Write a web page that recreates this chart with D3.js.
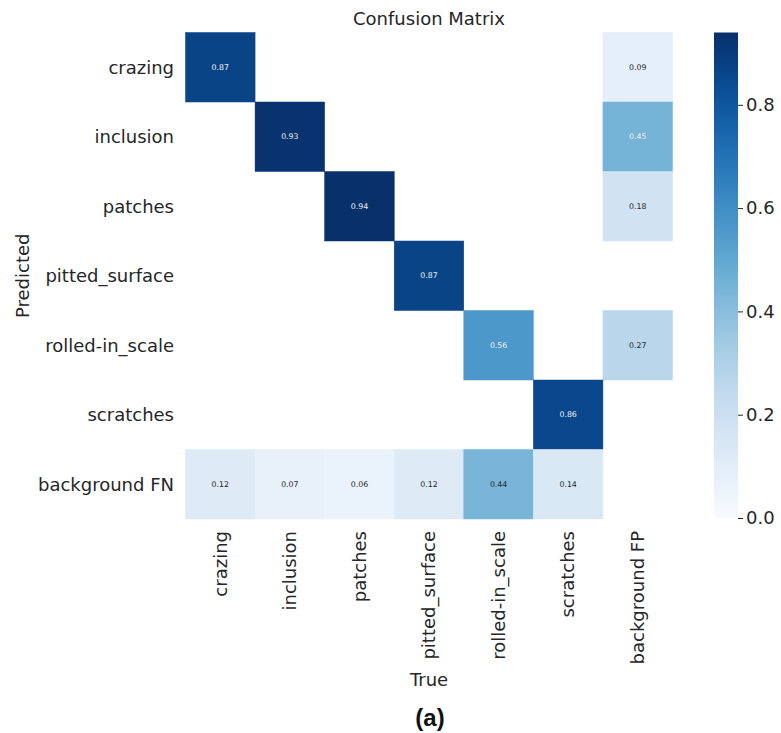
<!DOCTYPE html>
<html>
<head>
<meta charset="utf-8">
<script src="https://cdn.jsdelivr.net/npm/d3@7"></script>
<style>
  html, body { margin: 0; padding: 0; background: #fff; }
  svg { display: block; font-family: "DejaVu Sans", sans-serif; }
</style>
</head>
<body>
<svg id="chart" width="781" height="733"></svg>
<script>
// Classes along each axis
const predictedLabels = ["crazing", "inclusion", "patches", "pitted_surface", "rolled-in_scale", "scratches", "background FN"];
const trueLabels = ["crazing", "inclusion", "patches", "pitted_surface", "rolled-in_scale", "scratches", "background FP"];

// One row per predicted class, one value per true class (0 = empty cell)
const rowCrazing    = [0.87, 0, 0, 0, 0, 0, 0.09];
const rowInclusion  = [0, 0.93, 0, 0, 0, 0, 0.45];
const rowPatches    = [0, 0, 0.94, 0, 0, 0, 0.18];
const rowPitted     = [0, 0, 0, 0.87, 0, 0, 0];
const rowRolled     = [0, 0, 0, 0, 0.56, 0, 0.27];
const rowScratches  = [0, 0, 0, 0, 0, 0.86, 0];
const rowBackground = [0.12, 0.07, 0.06, 0.12, 0.44, 0.14, 0];

const colorbarTicks = [0.0, 0.2, 0.4, 0.6, 0.8];

const matrix = [rowCrazing, rowInclusion, rowPatches, rowPitted, rowRolled, rowScratches, rowBackground];

const svg = d3.select("#chart");
const textColor = "#262626";
const labelSize = 18;

// Heatmap frame
const hmLeft = 185.5, hmRight = 672.5, hmTop = 32.5, hmBottom = 519;

const x = d3.scaleBand().domain(trueLabels).range([hmLeft, hmRight]);
const y = d3.scaleBand().domain(predictedLabels).range([hmTop, hmBottom]);

const vmax = d3.max(matrix.flat());
const color = d3.scaleSequential(d3.interpolateBlues).domain([0, vmax]);

const cells = [];
matrix.forEach((row, i) => row.forEach((v, j) => {
  if (v > 0) cells.push({ r: predictedLabels[i], c: trueLabels[j], v });
}));

const g = svg.append("g");
g.selectAll("rect.cell").data(cells).enter().append("rect")
  .attr("class", "cell")
  .attr("x", d => x(d.c))
  .attr("y", d => y(d.r))
  .attr("width", x.bandwidth())
  .attr("height", y.bandwidth())
  .attr("fill", d => color(d.v))
  .attr("stroke", d => color(d.v))
  .attr("stroke-width", 0.5);

// Annotations: light text on the darker half of the scale
g.selectAll("text.val").data(cells).enter().append("text")
  .attr("class", "val")
  .attr("x", d => x(d.c) + x.bandwidth() / 2)
  .attr("y", d => y(d.r) + y.bandwidth() / 2)
  .attr("dy", "0.35em")
  .attr("text-anchor", "middle")
  .attr("font-size", 7.8)
  .attr("fill", d => d.v / vmax > 0.475 ? "#f2f2f2" : textColor)
  .text(d => d.v.toFixed(2));

// Row labels (predicted)
svg.append("g").selectAll("text").data(predictedLabels).enter().append("text")
  .attr("x", 174)
  .attr("y", d => y(d) + y.bandwidth() / 2)
  .attr("dy", "0.35em")
  .attr("text-anchor", "end")
  .attr("font-size", labelSize)
  .attr("fill", textColor)
  .text(d => d);

// Column labels (true), rotated
svg.append("g").selectAll("text").data(trueLabels).enter().append("text")
  .attr("transform", d => `translate(${x(d) + x.bandwidth() / 2},531) rotate(-90)`)
  .attr("dy", "0.35em")
  .attr("text-anchor", "end")
  .attr("font-size", labelSize)
  .attr("fill", textColor)
  .text(d => d);

// Axis titles
svg.append("text")
  .attr("x", (hmLeft + hmRight) / 2).attr("y", 686)
  .attr("text-anchor", "middle").attr("font-size", labelSize).attr("fill", textColor)
  .text("True");

svg.append("text")
  .attr("transform", `translate(29,${(hmTop + hmBottom) / 2}) rotate(-90)`)
  .attr("text-anchor", "middle").attr("font-size", labelSize).attr("fill", textColor)
  .text("Predicted");

svg.append("text")
  .attr("x", (hmLeft + hmRight) / 2).attr("y", 25)
  .attr("text-anchor", "middle").attr("font-size", labelSize).attr("fill", textColor)
  .text("Confusion Matrix");

// Colorbar
const cbX = 714, cbW = 24;
const cbScale = d3.scaleLinear().domain([0, vmax]).range([hmBottom - 1, hmTop]);
const defs = svg.append("defs");
const grad = defs.append("linearGradient").attr("id", "cbGrad")
  .attr("x1", 0).attr("y1", 1).attr("x2", 0).attr("y2", 0);
d3.range(0, 1.0001, 0.05).forEach(t => {
  grad.append("stop").attr("offset", t).attr("stop-color", color(t * vmax));
});
svg.append("rect")
  .attr("x", cbX).attr("y", hmTop).attr("width", cbW).attr("height", hmBottom - 1 - hmTop)
  .attr("fill", "url(#cbGrad)");

const cbAxis = d3.axisRight(cbScale).tickValues(colorbarTicks).tickFormat(d3.format(".1f")).tickSize(5).tickPadding(3);
const cbG = svg.append("g").attr("transform", `translate(${cbX + cbW},0)`).call(cbAxis);
cbG.select(".domain").remove();
cbG.selectAll("line").attr("stroke", textColor).attr("stroke-width", 1);
cbG.selectAll("text").attr("font-size", labelSize).attr("fill", textColor).attr("font-family", "DejaVu Sans, sans-serif");

// Panel caption
svg.append("text")
  .attr("x", 430).attr("y", 726)
  .attr("text-anchor", "middle")
  .attr("font-family", "Liberation Sans, Arial, sans-serif")
  .attr("font-weight", "bold").attr("font-size", 24).attr("fill", "#111")
  .text("(a)");
</script>
</body>
</html>
